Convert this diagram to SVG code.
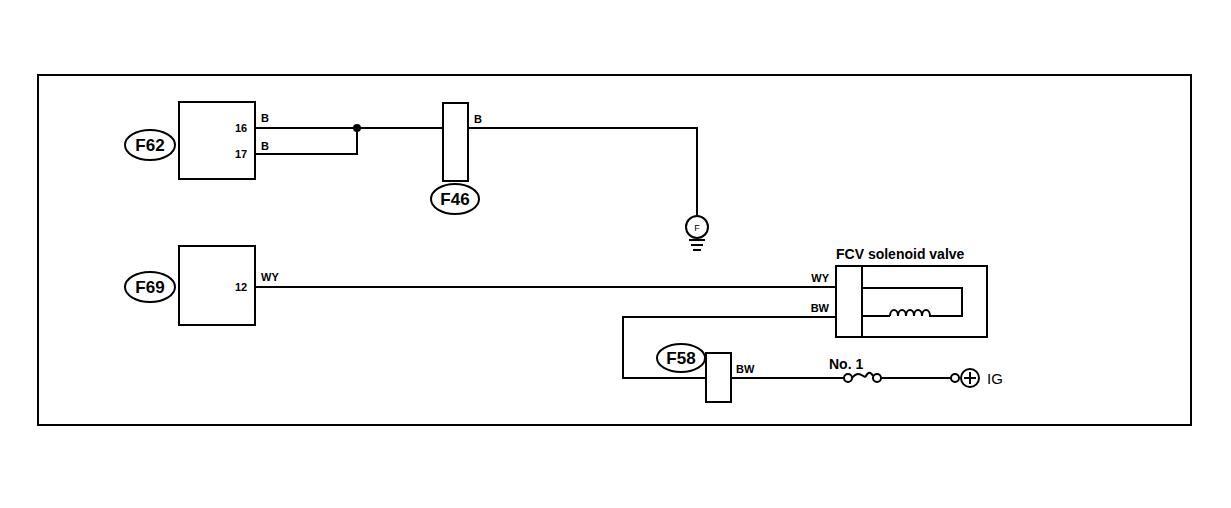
<svg xmlns="http://www.w3.org/2000/svg" width="1231" height="508" viewBox="0 0 1231 508">
<style>
.l{fill:none;stroke:#000;stroke-width:2}
.b{fill:#fff;stroke:#000;stroke-width:2}
.t{font-family:"Liberation Sans",Arial,sans-serif;font-size:11px;font-weight:bold}
.c{font-family:"Liberation Sans",Arial,sans-serif;font-size:17px;font-weight:bold;text-anchor:middle}
.n{font-family:"Liberation Sans",Arial,sans-serif;font-size:14px;font-weight:bold}
</style>
<rect width="1231" height="508" fill="#fff"/>
<rect x="38" y="75" width="1153" height="350" class="l"/>
<g id="connectors">
<path class="l" d="M255 128H443M255 154H357V128M468 128H697V216"/>
<path class="l" d="M255 287H836M836 317H623V378H706M731 378H848M877 378H955M862 288H962V316H933M890 316H862"/>
<path class="l" d="M890 316c0-8 8-8 8 0c0-8 8-8 8 0c0-8 8-8 8 0c0-8 8-8 8 0c0-8 8-8 8 0h3"/>
<path class="l" d="M852 378c8-10 12 2 14-2c3-6 6-2 7 0"/>
<circle cx="357" cy="128" r="4"/>
</g>
<g id="F62"><rect x="179" y="102" width="76" height="77" class="b"/><ellipse cx="150" cy="145" rx="25" ry="15" class="b"/><text x="150" y="151" class="c">F62</text>
<text x="241" y="132" class="t" text-anchor="middle">16</text><text x="241" y="158" class="t" text-anchor="middle">17</text><text x="261" y="122" class="t">B</text><text x="261" y="150" class="t">B</text></g>
<g id="F46"><rect x="443" y="103" width="25" height="78" class="b"/><ellipse cx="455" cy="199" rx="24" ry="15" class="b"/><text x="455" y="205" class="c">F46</text><text x="474" y="123" class="t">B</text></g>
<g id="ground"><circle cx="697" cy="227" r="11" class="b"/><text x="697" y="231" font-family="Liberation Sans,sans-serif" font-size="9" text-anchor="middle">F</text><path class="l" d="M689 240h16M691 245h12M693 250h8"/></g>
<g id="F69"><rect x="179" y="246" width="76" height="79" class="b"/><ellipse cx="150" cy="287" rx="25" ry="15" class="b"/><text x="150" y="293" class="c">F69</text><text x="241" y="291" class="t" text-anchor="middle">12</text><text x="261" y="281" class="t">WY</text></g>
<g id="FCV"><rect x="836" y="266" width="151" height="71" class="l"/><line x1="862" y1="266" x2="862" y2="337" class="l"/><text x="836" y="259" class="n">FCV solenoid valve</text><text x="829" y="282" class="t" text-anchor="end">WY</text><text x="829" y="312" class="t" text-anchor="end">BW</text></g>
<g id="F58"><rect x="706" y="353" width="25" height="49" class="b"/><ellipse cx="681" cy="358" rx="24" ry="14" class="b"/><text x="681" y="364" class="c">F58</text><text x="736" y="373" class="t">BW</text></g>
<g id="fuse"><circle cx="848" cy="378" r="4" class="b"/><circle cx="877" cy="378" r="4" class="b"/><text x="829" y="369" class="n">No. 1</text></g>
<g id="IG"><circle cx="955" cy="378" r="4" class="b"/><circle cx="970" cy="378" r="9" class="b"/><path class="l" d="M964 378h12M970 372v12"/><text x="987" y="384" font-family="Liberation Sans,Arial,sans-serif" font-size="15">IG</text></g>
</svg>
